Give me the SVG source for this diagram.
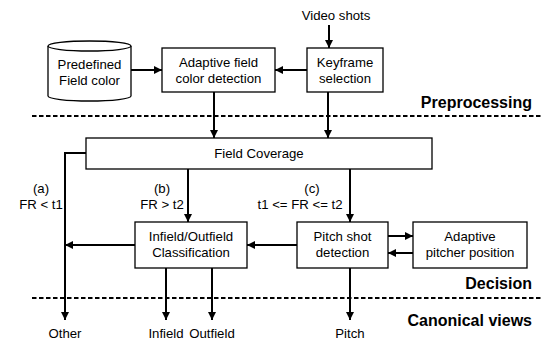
<svg xmlns="http://www.w3.org/2000/svg" width="542" height="341" viewBox="0 0 542 341">
  <defs>
    <marker id="arrow" viewBox="0 0 10 10" refX="10" refY="5" markerWidth="9" markerHeight="8" markerUnits="userSpaceOnUse" orient="auto">
      <path d="M0,0 L10,5 L0,10 Z" fill="#000"/>
    </marker>
    <style>
      .box { fill: #fff; stroke: #000; stroke-width: 1.3; }
      .lbl { font-family: "Liberation Sans", Arial, sans-serif; font-size: 13.2px; fill: #000; text-anchor: middle; }
      .stage { font-family: "Liberation Sans", Arial, sans-serif; font-size: 16px; font-weight: bold; fill: #000; text-anchor: end; }
      .edge { fill: none; stroke: #000; stroke-width: 2; }
      .arr { marker-end: url(#arrow); }
      .sep { fill: none; stroke: #000; stroke-width: 2; stroke-dasharray: 4.5 2.5; }
    </style>
  </defs>

  <rect width="542" height="341" fill="#fff"/>

  <!-- stage separators and stage titles -->
  <g id="stages">
    <line class="sep" x1="32" y1="116" x2="542" y2="116"/>
    <line class="sep" x1="32" y1="298" x2="542" y2="298"/>
    <text class="stage" x="532" y="108">Preprocessing</text>
    <text class="stage" x="532" y="289">Decision</text>
    <text class="stage" x="532" y="326">Canonical views</text>
  </g>

  <!-- connectors -->
  <g id="connectors">
    <line class="edge arr" x1="329" y1="25" x2="329" y2="48"/>
    <line class="edge arr" x1="131" y1="70" x2="162" y2="70"/>
    <line class="edge arr" x1="307" y1="70" x2="275" y2="70"/>
    <line class="edge arr" x1="214" y1="92" x2="214" y2="138"/>
    <line class="edge arr" x1="328" y1="92" x2="328" y2="138"/>
    <polyline class="edge arr" points="86,153 65,153 65,320"/>
    <line class="edge arr" x1="188" y1="169" x2="188" y2="222"/>
    <line class="edge arr" x1="350" y1="169" x2="350" y2="222"/>
    <line class="edge arr" x1="388" y1="236" x2="413" y2="236"/>
    <line class="edge arr" x1="413" y1="253" x2="388" y2="253"/>
    <line class="edge arr" x1="297" y1="245" x2="247" y2="245"/>
    <line class="edge arr" x1="135" y1="245" x2="65" y2="245"/>
    <line class="edge arr" x1="166" y1="268" x2="166" y2="320"/>
    <line class="edge arr" x1="212" y1="268" x2="212" y2="320"/>
    <line class="edge arr" x1="350" y1="268" x2="350" y2="320"/>
  </g>

  <!-- edge labels -->
  <g id="edge-labels">
    <text class="lbl" x="41" y="193">(a)</text>
    <text class="lbl" x="41" y="209">FR &lt; t1</text>
    <text class="lbl" x="162" y="193">(b)</text>
    <text class="lbl" x="162" y="209">FR &gt; t2</text>
    <text class="lbl" x="312" y="193">(c)</text>
    <text class="lbl" x="300" y="209">t1 &lt;= FR &lt;= t2</text>
  </g>

  <g id="video-shots">
    <text class="lbl" x="336" y="20">Video shots</text>
  </g>

  <g id="predefined-field-color">
    <path class="box" d="M48,46 L48,96 A41.5,5 0 0 0 131,96 L131,46"/>
    <ellipse class="box" cx="89.5" cy="46" rx="41.5" ry="5"/>
    <text class="lbl" x="89.5" y="69">Predefined</text>
    <text class="lbl" x="89.5" y="85">Field color</text>
  </g>

  <g id="adaptive-field-color">
    <rect class="box" x="162" y="48" width="113" height="44"/>
    <text class="lbl" x="218.5" y="67">Adaptive field</text>
    <text class="lbl" x="218.5" y="83">color detection</text>
  </g>

  <g id="keyframe-selection">
    <rect class="box" x="307" y="48" width="76" height="44"/>
    <text class="lbl" x="345" y="67">Keyframe</text>
    <text class="lbl" x="345" y="83">selection</text>
  </g>

  <g id="field-coverage">
    <rect class="box" x="86" y="138" width="346" height="31"/>
    <text class="lbl" x="259" y="158">Field Coverage</text>
  </g>

  <g id="infield-outfield">
    <rect class="box" x="135" y="222" width="112" height="46"/>
    <text class="lbl" x="191" y="241">Infield/Outfield</text>
    <text class="lbl" x="191" y="257">Classification</text>
  </g>

  <g id="pitch-shot-detection">
    <rect class="box" x="297" y="222" width="91" height="46"/>
    <text class="lbl" x="342.5" y="241">Pitch shot</text>
    <text class="lbl" x="342.5" y="257">detection</text>
  </g>

  <g id="adaptive-pitcher-position">
    <rect class="box" x="413" y="222" width="114" height="46"/>
    <text class="lbl" x="470" y="241">Adaptive</text>
    <text class="lbl" x="470" y="257">pitcher position</text>
  </g>

  <!-- output views -->
  <g id="view-other"><text class="lbl" x="65" y="338">Other</text></g>
  <g id="view-infield"><text class="lbl" x="166" y="338">Infield</text></g>
  <g id="view-outfield"><text class="lbl" x="212" y="338">Outfield</text></g>
  <g id="view-pitch"><text class="lbl" x="350" y="338">Pitch</text></g>
</svg>
